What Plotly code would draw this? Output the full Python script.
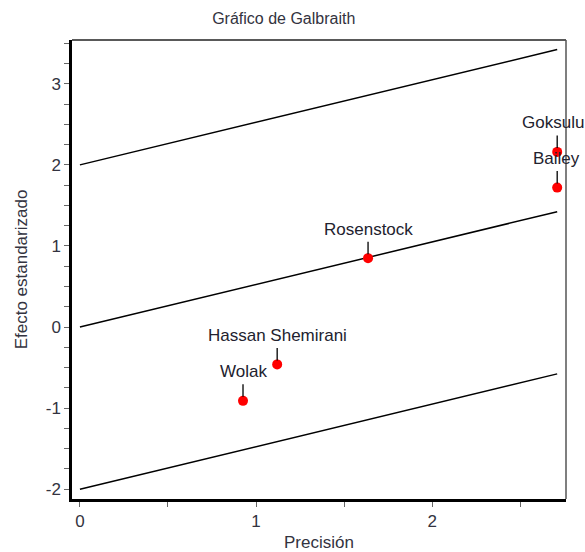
import plotly.graph_objects as go

# Galbraith plot data: precision (1/SE) and standardized effect (estimate/SE)
studies = ["Wolak", "Hassan Shemirani", "Rosenstock", "Goksulu", "Bailey"]
precision = [0.926, 1.12, 1.636, 2.71, 2.71]
std_effect = [-0.91, -0.46, 0.85, 2.16, 1.72]
# horizontal nudge of each study label (px), keeps the rightmost names inside the page
label_dx = [0, 0, 0, -4, -1]

# pooled slope and the +/-2 bands
slope = 0.525
band_offsets = [2, 0, -2]

x_ticks = [0, 1, 2]
y_ticks = [-2, -1, 0, 1, 2, 3]
y_tick_labels = ["-2", "-1", "0", "1", "2", "3"]

font_family = "Liberation Sans, Arial, sans-serif"
text_color = "#333340"

fig = go.Figure()

x_end = max(precision)
for off in band_offsets:
    fig.add_trace(go.Scatter(
        x=[0, x_end], y=[off, off + slope * x_end],
        mode="lines", line=dict(color="black", width=1.5),
        hoverinfo="skip", showlegend=False,
    ))

fig.add_trace(go.Scatter(
    x=precision, y=std_effect, mode="markers",
    marker=dict(color="#ff0000", size=10),
    text=studies, showlegend=False,
))

for name, px, py, dx in zip(studies, precision, std_effect, label_dx):
    # short vertical leader above the point
    fig.add_annotation(
        x=px, y=py, text="", showarrow=True,
        ax=0, ay=-18, arrowhead=0, arrowwidth=1.3, arrowcolor="black",
        standoff=4,
    )
    # study name
    fig.add_annotation(
        x=px, y=py, text=name, showarrow=False,
        xshift=dx, yshift=29, borderpad=0,
        font=dict(family=font_family, size=17, color="#22222e"),
    )

axis_common = dict(
    showgrid=False, zeroline=False, showline=True, automargin=False,
    linecolor="black", linewidth=2.5,
    ticks="outside", ticklen=5, tickwidth=1, tickcolor="#666666",
    tickfont=dict(family=font_family, size=17, color=text_color),
    title_font=dict(family=font_family, size=17, color=text_color),
)

fig.update_xaxes(
    range=[-0.045, 2.76], tickvals=x_ticks,
    minor=dict(dtick=0.5, ticks="outside", ticklen=5, tickcolor="#666666", tickwidth=1),
    title_text="Precisión", title_standoff=6,
    **axis_common,
)
fig.update_yaxes(
    range=[-2.12, 3.54], tickvals=y_ticks, ticktext=y_tick_labels,
    minor=dict(dtick=0.25, ticks="outside", ticklen=5, tickcolor="#666666", tickwidth=1),
    title_text="Efecto estandarizado", title_standoff=14,
    **axis_common,
)

# thin top and right frame
fig.add_shape(type="line", xref="paper", yref="paper", x0=0, x1=1, y0=1, y1=1,
              line=dict(color="#222222", width=1.5))
fig.add_shape(type="line", xref="paper", yref="paper", x0=1, x1=1, y0=0, y1=1,
              line=dict(color="#555555", width=1.5))

fig.update_layout(
    width=585, height=552,
    margin=dict(l=72, r=19, t=40, b=53),
    paper_bgcolor="white", plot_bgcolor="white",
    title=dict(text="Gráfico de Galbraith", x=0.485, xanchor="center", y=0.967, yanchor="middle",
               font=dict(family=font_family, size=16, color=text_color)),
)

fig.write_html("out.html")
